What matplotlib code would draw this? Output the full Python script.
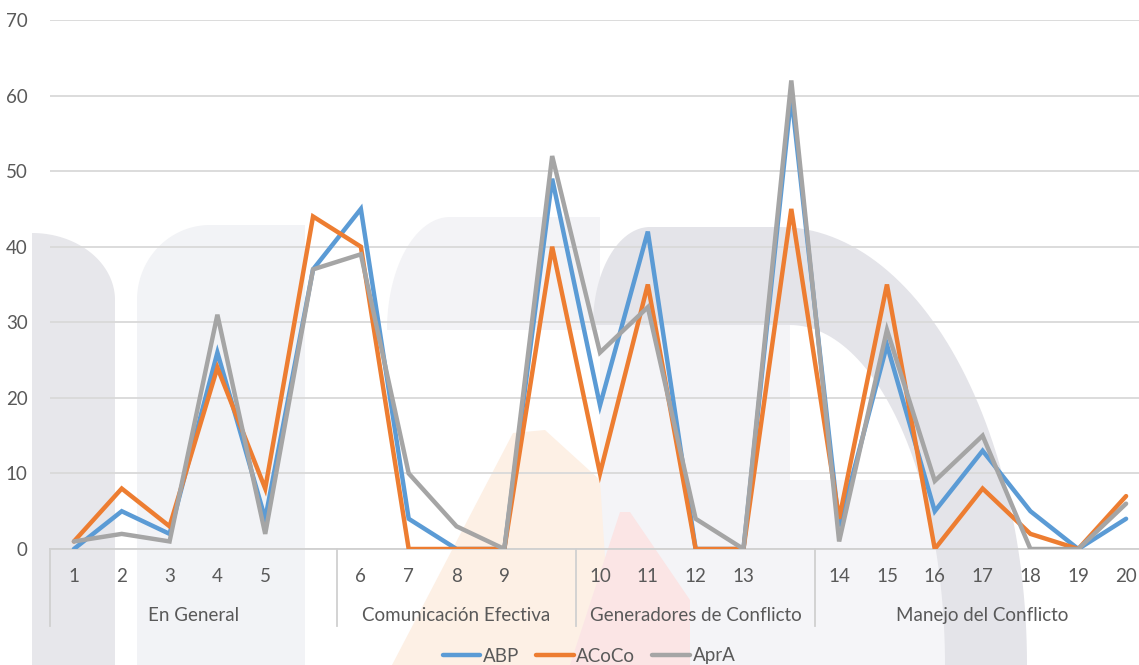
from matplotlib import pyplot as plt
from matplotlib.patches import Polygon
from matplotlib.lines import Line2D
from matplotlib.transforms import blended_transform_factory
import numpy as np

plt.rcParams['font.family'] = ['Lato', 'DejaVu Sans']

# categories (blank slots separate the groups)
tick_labels = ['1', '2', '3', '4', '5', '',
               '6', '7', '8', '9', '',
               '10', '11', '12', '13', '',
               '14', '15', '16', '17', '18', '19', '20']
groups = ['En General', 'Comunicación Efectiva', 'Generadores de Conflicto', 'Manejo del Conflicto']
group_sizes = [6, 5, 5, 7]

abp   = [0, 5, 2, 26, 4, 37, 45, 4, 0, 0, 49, 19, 42, 0, 0, 60, 3, 27, 5, 13, 5, 0, 4]
acoco = [1, 8, 3, 24, 8, 44, 40, 0, 0, 0, 40, 10, 35, 0, 0, 45, 4, 35, 0, 8, 2, 0, 7]
apra  = [1, 2, 1, 31, 2, 37, 39, 10, 3, 0, 52, 26, 32, 4, 0, 62, 1, 29, 9, 15, 0, 0, 6]

series = [('ABP', abp, '#5B9BD5'), ('ACoCo', acoco, '#ED7D31'), ('AprA', apra, '#A5A5A5')]

W, H = 1139, 665
TXT = '#595959'
FS = 13.5

fig = plt.figure(figsize=(W / 100, H / 100), dpi=100)
fig.patch.set_facecolor('white')


def px(pts):
    pts = np.asarray(pts, dtype=float)
    return np.column_stack([pts[:, 0] / W, 1 - pts[:, 1] / H])


def blob(pts, color):
    fig.add_artist(Polygon(px(pts), closed=True, transform=fig.transFigure,
                           facecolor=color, edgecolor='none', zorder=-5))


def ell(cx, cy, rx, ry, a0, a1, n=60):
    t = np.radians(np.linspace(a0, a1, n))
    return np.column_stack([cx + rx * np.cos(t), cy - ry * np.sin(t)])


# faint background watermark
blob(np.vstack([[[32, 665]], ell(32, 300, 83, 67, 90, 0), [[115, 665]]]), '#E7E7EB')
blob(np.vstack([[[137, 665], [137, 300]], ell(210, 300, 73, 75, 180, 90), [[305, 225], [305, 665]]]), '#F2F3F6')
blob(np.vstack([[[387, 330]], ell(450, 330, 63, 113, 180, 90), [[600, 217], [600, 330]]]), '#F3F3F6')
blob([[600, 665], [600, 325], [790, 325], [790, 665]], '#F4F4F7')
blob([[790, 665], [790, 480], [945, 480], [945, 665]], '#F5F5F8')
blob(np.vstack([ell(650, 325, 57, 98, 180, 90), ell(780, 665, 247, 438, 90, 0),
                ell(790, 665, 155, 340, 0, 90), [[593, 325]]]), '#E4E4E9')
blob([[392, 665], [513, 433], [545, 430], [600, 480], [612, 665]], '#FDF0E5')
blob([[570, 665], [620, 512], [630, 512], [690, 600], [690, 665]], '#FBE5E5')

ax = fig.add_axes([50 / W, 1 - 549 / H, 1100 / W, 529 / H])
ax.set_facecolor('none')

x = np.arange(len(tick_labels))
for name, vals, color in series:
    ax.plot(x, vals, color=color, lw=3.2, label=name, solid_joinstyle='miter',
            solid_capstyle='round', zorder=3)

ax.set_xlim(-0.5, len(tick_labels) - 0.5)
ax.set_ylim(0, 70)
ax.set_yticks(range(0, 71, 10))
ax.grid(axis='y', color='#D9D9D9', lw=1.3)
ax.set_axisbelow(True)
for s in ['top', 'right', 'left']:
    ax.spines[s].set_visible(False)
ax.spines['bottom'].set_color('#D0D0D0')
ax.spines['bottom'].set_linewidth(1.3)

ax.set_xticks(x)
ax.set_xticklabels(tick_labels)
ax.tick_params(axis='x', length=0, pad=14, labelsize=FS, labelcolor=TXT)
ax.tick_params(axis='y', length=0, pad=16, labelsize=FS, labelcolor=TXT)

# group labels and separators under the axis
trans = blended_transform_factory(ax.transData, ax.transAxes)
edge = -0.5
bounds = [edge]
for g, n in zip(groups, group_sizes):
    ax.text(edge + n / 2, -0.125, g, transform=trans, ha='center', va='center',
            fontsize=FS, color=TXT)
    edge += n
    bounds.append(edge)
for b in bounds:
    ax.add_line(Line2D([b, b], [0, -0.146], transform=trans, color='#D0D0D0',
                       lw=1.3, clip_on=False))

fig.legend(loc='center', bbox_to_anchor=(589 / W, 1 - 656 / H), ncol=3, frameon=False,
           handlelength=2.0, columnspacing=0.9, handletextpad=0.15,
           fontsize=FS, labelcolor=TXT)

fig.savefig('out.png', dpi=100)
